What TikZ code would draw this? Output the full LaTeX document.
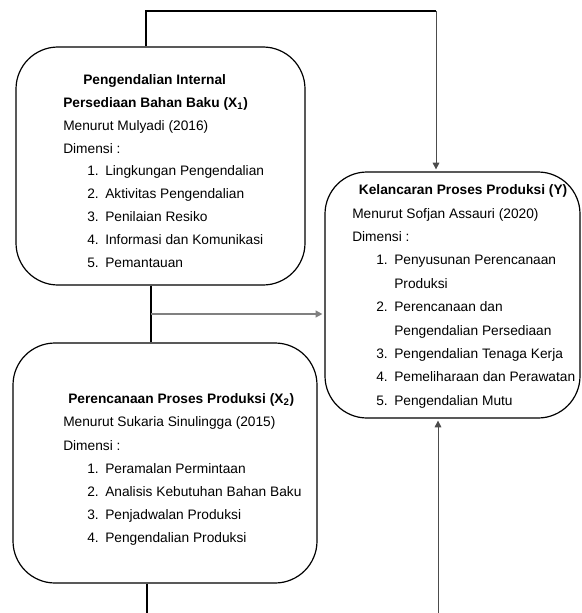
\documentclass[tikz,border=0pt]{standalone}
\usepackage{fontspec}
\setmainfont{Liberation Sans}
\usetikzlibrary{arrows.meta}

\def\px{0.75pt}
\newcommand{\itm}[2]{\hspace*{18pt}\makebox[13.5pt][l]{#1.}#2}
\newcommand{\cont}[1]{\hspace*{31.5pt}#1}

\tikzset{
  box/.style={draw, line width=0.9pt, rounded corners=31.5pt, inner sep=0pt},
  txt/.style={inner sep=0pt, align=left, anchor=north west},
  link/.style={line width=0.9pt},
  arr/.style={line width=0.6pt, draw=black!70, -{Triangle[length=5pt,width=5pt]}, shorten >=1.5pt},
  grayarr/.style={line width=1.4pt, draw=gray, -{Triangle[length=5pt,width=5pt]}, shorten >=1.5pt},
}

\begin{document}
\begin{tikzpicture}[x=0.75pt, y=-0.75pt]
    \useasboundingbox (0,0) rectangle (581,613);

    % Kotak
    \node[box, minimum width=289*\px, minimum height=238*\px] (bx1) at (160.5,166) {};
    \node[box, minimum width=304*\px, minimum height=240*\px] (bx2) at (165,463) {};
    \node[box, minimum width=255*\px, minimum height=246*\px] (bxy) at (452.5,295) {};

    % Isi X1
    \node[txt, font=\fontsize{10.3}{17.2}\selectfont] (t1) at (63,74) {%
      \hspace*{15pt}\textbf{Pengendalian Internal}\\
      \textbf{Persediaan Bahan Baku (X\textsubscript{1})}\\
      Menurut Mulyadi (2016)\\
      Dimensi :\\
      \itm{1}{Lingkungan Pengendalian}\\
      \itm{2}{Aktivitas Pengendalian}\\
      \itm{3}{Penilaian Resiko}\\
      \itm{4}{Informasi dan Komunikasi}\\
      \itm{5}{Pemantauan}};

    % Isi X2
    \node[txt, font=\fontsize{10.3}{17.4}\selectfont] (t2) at (63,393.5) {%
      \hspace*{3.75pt}\textbf{Perencanaan Proses Produksi (X\textsubscript{2})}\\
      Menurut Sukaria Sinulingga (2015)\\
      Dimensi :\\
      \itm{1}{Peramalan Permintaan}\\
      \itm{2}{Analisis Kebutuhan Bahan Baku}\\
      \itm{3}{Penjadwalan Produksi}\\
      \itm{4}{Pengendalian Produksi}};

    % Isi Y
    \node[txt, font=\fontsize{10.3}{17.55}\selectfont] (ty) at (352,184.5) {%
      \hspace*{5pt}\textbf{Kelancaran Proses Produksi (Y)}\\
      Menurut Sofjan Assauri (2020)\\
      Dimensi :\\
      \itm{1}{Penyusunan Perencanaan}\\
      \cont{Produksi}\\
      \itm{2}{Perencanaan dan}\\
      \cont{Pengendalian Persediaan}\\
      \itm{3}{Pengendalian Tenaga Kerja}\\
      \itm{4}{Pemeliharaan dan Perawatan}\\
      \itm{5}{Pengendalian Mutu}};

    % Garis penghubung
    \coordinate (topL) at (146,11);
    \coordinate (topR) at (436,11);
    \coordinate (mid) at (151,314);
    \coordinate (botL) at (147,613);
    \coordinate (botR) at (438,613);

    \draw[link] (bx1.north -| topL) -- (topL) -- (topR);
    \draw[arr] (topR) -- (bxy.north -| topR);
    \draw[link] (bx1.south -| mid) -- (bx2.north -| mid);
    \draw[grayarr] (mid) -- (bxy.west |- mid);
    \draw[link] (bx2.south -| botL) -- (botL);
    \draw[arr] (botR) -- (bxy.south -| botR);
\end{tikzpicture}
\end{document}
